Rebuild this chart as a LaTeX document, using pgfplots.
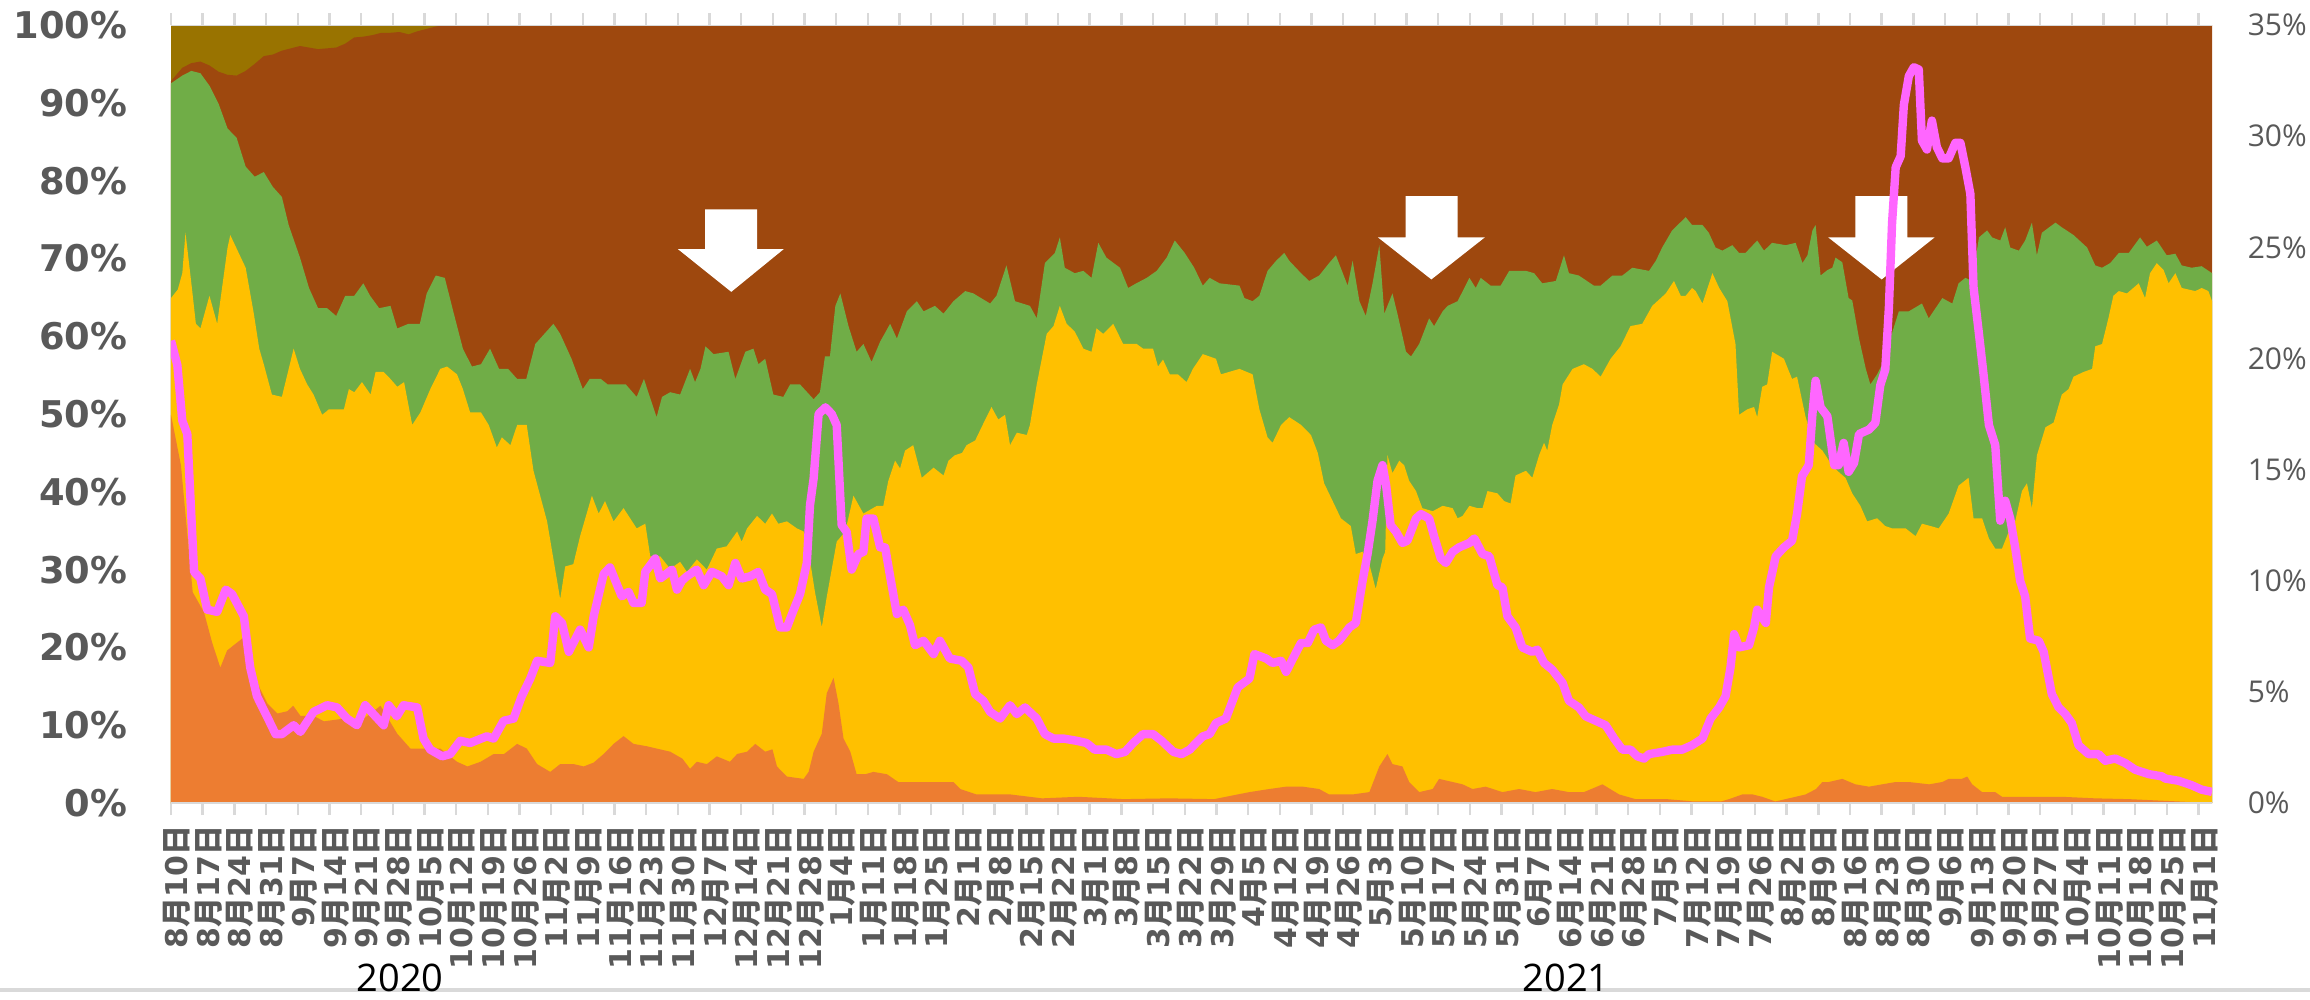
\documentclass[border=0pt]{standalone}
\usepackage{fontspec}
\setmainfont{DejaVu Sans}
\newfontfamily\cjk{Noto Sans CJK JP}
\newfontfamily\opensans{Open Sans}
\usepackage{pgfplots}
\pgfplotsset{compat=1.18}
\usepackage{pgfplotstable}

\definecolor{cOrange}{HTML}{ED7D31}
\definecolor{cYellow}{HTML}{FFC000}
\definecolor{cGreen}{HTML}{70AD47}
\definecolor{cBrown}{HTML}{9E480E}
\definecolor{cOlive}{HTML}{997300}
\definecolor{cPink}{HTML}{FF66FF}
\definecolor{cTick}{HTML}{595959}
\definecolor{cGrid}{HTML}{D9D9D9}

\newcommand\md[2]{#1{\cjk 月}#2{\cjk 日}}

% x = days since 2020-08-10, y = cumulative share (%) at the top of each layer
\pgfplotstableread{
d v
-0.5 92.8
2 94.5
4 95.1
6 95.3
8 94.8
10 94.0
12 93.6
14 93.5
16 94.1
18 95.0
20 96.0
22 96.2
24 96.7
26 97.0
28 97.3
30 97.1
32 96.9
34 97.0
36 97.1
38 97.6
40 98.4
42 98.5
44 98.7
46 99.0
48 99.0
50 99.1
52 98.8
54 99.2
56 99.5
58 99.8
60 100
450.5 100
}\tblBrown

\pgfplotstableread{
d v
-0.5 92.5
2 93.5
4 94.1
6 93.8
8 92.2
10 89.9
12 86.7
14 85.5
16 81.8
18 80.5
20 81.1
22 79.2
24 77.9
25.5 74.3
28 70.1
30 66.2
32 63.6
34 63.6
36 62.6
38 65.2
40 65.2
42 66.8
43.5 65.2
45.5 63.6
48 63.9
49.5 61.0
52 61.6
54.5 61.6
56 65.5
58 67.8
60 67.5
62 62.9
64 58.4
66 56.1
68 56.4
70 58.4
72 55.8
74 55.8
76 54.5
78 54.5
80 59.0
82 60.3
84 61.6
85.5 60.3
88 57.1
90.5 53.2
92 54.5
94.5 54.5
96 53.8
98.7 53.8
100 53.8
102.4 52.2
104 54.5
106.8 49.6
108 52.2
109.8 52.8
112 52.5
114.2 55.8
115.3 54.1
116.5 55.8
117.6 58.7
119.4 57.7
122.7 58.0
124.2 54.5
126.4 58.0
128.2 58.4
129.3 56.4
130.8 57.1
132.6 52.5
134.8 52.2
136.3 53.8
138.5 53.8
141.5 51.9
142.9 52.8
144.0 57.4
145.1 57.4
146.3 63.9
147.4 65.5
149.2 61.3
151.0 58.0
152.5 59.0
154.3 56.7
156.2 59.3
158.4 61.6
159.9 59.7
162.1 63.2
164.3 64.5
165.8 63.2
168.3 63.9
170.2 62.9
172.4 64.5
175.0 65.8
176.8 65.5
180.5 64.2
181.9 65.2
184.1 69.1
186.0 64.5
189.3 63.9
190.8 62.3
192.6 69.4
194.8 70.7
195.9 72.7
197.0 68.8
199.2 68.1
201.1 68.4
202.9 67.5
204.4 72.0
206.2 70.1
209.2 68.8
211.0 66.2
212.8 66.8
215.1 67.5
217.3 68.4
219.5 70.1
221.3 72.3
223.5 70.7
225.6 68.8
227.5 66.5
229.0 67.5
231.2 66.8
235.6 66.5
236.7 64.9
238.5 64.5
240.0 65.2
241.8 68.4
243.7 69.7
245.5 70.7
246.6 69.7
249.2 68.1
251.0 67.1
253.2 67.8
255.4 69.4
256.9 70.4
259.5 66.5
260.6 69.7
262.1 64.5
263.5 62.6
265.0 66.8
266.5 71.7
267.6 62.9
269.4 65.5
270.5 62.9
272.4 58.0
273.5 57.4
275.3 59.0
277.5 62.3
278.6 61.3
280.5 63.2
281.6 63.9
283.8 64.5
286.4 67.5
287.8 66.2
288.9 67.5
291.1 66.5
293.3 66.5
295.2 68.4
298.9 68.4
300.7 68.1
302.5 66.8
305.5 67.1
307.3 70.4
308.4 68.1
310.6 67.8
313.9 66.5
315.4 66.5
318.0 67.8
320.2 67.8
322.4 68.8
326.1 68.4
327.6 69.7
329.0 71.4
331.2 73.6
334.2 75.3
335.6 74.3
337.9 74.3
339.3 73.3
340.8 71.4
342.3 71.0
344.5 71.7
346.0 70.7
347.4 70.7
350.0 72.3
351.5 71.0
353.3 72.0
356.3 71.7
358.5 72.0
360.0 69.4
361.1 70.4
362.2 73.6
362.9 74.3
364.0 67.8
365.5 68.5
366.6 68.8
367.3 70.1
368.8 69.5
370.2 64.9
371.0 64.6
372.5 59.7
374.0 55.8
375.0 53.8
376.5 55.1
377.6 56.4
379.4 59.7
381.3 63.2
383.5 63.2
386.4 64.2
387.9 62.3
390.9 64.9
393.1 64.2
394.5 66.8
396.0 67.5
397.5 67.1
399.0 72.7
400.8 73.6
401.9 72.7
403.7 72.3
404.8 74.0
405.9 71.4
407.8 71.0
409.2 72.3
410.7 74.6
411.8 70.4
412.9 73.3
415.9 74.6
417.3 74.0
419.9 73.0
422.9 71.4
424.7 69.1
426.2 68.8
428.0 69.4
429.9 70.7
432.1 70.7
434.6 72.7
436.1 71.5
438.3 72.3
440.5 70.4
442.4 70.6
443.8 69.1
446.0 68.8
448.2 69.0
450.5 68.1
}\tblGreen

\pgfplotstableread{
d v
-0.5 64.9
1 66
2 68.1
2.7 73.3
4 66.8
5 61.6
6 61.0
8 65.2
9.7 61.6
12 71.4
12.6 73.0
16 68.8
17.8 62.9
19 58.4
20 56.4
21.8 52.5
24 52.2
26.6 58.4
28 55.8
29.6 53.8
31 52.5
32.9 49.9
34.4 50.6
37.7 50.6
38.8 53.2
40 52.8
41.7 54.1
43.6 52.5
44.7 55.4
46.5 55.4
48 54.5
49.5 53.5
51 54.1
52.8 48.6
54.6 50.2
56.8 53.2
59 55.8
60.5 56.1
62.7 55.1
64 53.2
65.6 50.2
68 50.2
69.7 48.6
71.5 45.7
72.6 47.0
74.5 46.0
76 48.6
78.1 48.6
79.6 42.7
82.6 36.2
85.5 26.2
86.6 30.4
88.4 30.7
89.9 34.3
92.5 39.5
94 37.2
95.4 38.8
97.3 36.2
99.5 37.9
102.4 35.3
104.3 35.9
105.4 31.7
107.6 31.7
109.8 30.1
112 31.0
113.5 29.7
115.7 31.3
117.9 30.0
120.1 32.7
122.3 33.0
124.6 34.9
125.6 33.6
126.8 35.3
129 36.9
130.8 35.9
132.3 37.2
133.7 35.9
135.6 36.2
137.8 35.3
139.3 34.9
140.4 32.3
141.8 27.1
143.3 22.6
144.4 26.5
146.6 33.6
148.5 34.9
150.3 39.5
152.5 37.2
155.5 38.2
156.9 38.2
158 41.4
159.5 44.0
160.6 43.0
161.7 45.3
163.5 46.0
165.4 41.8
168 43.1
170.2 42.1
171.3 44.0
172.7 44.7
174.3 45.0
175.3 46.0
177.2 46.6
178.6 48.3
180.8 50.9
182.3 49.3
183.8 49.9
184.9 46.0
186.4 47.6
188.6 47.3
189.3 48.6
190.8 53.8
193 60.3
194.5 61.3
195.9 63.9
197.4 61.6
199.2 60.6
201.1 58.4
202.9 58.0
204 61.0
205.5 60.3
207.7 61.6
209.9 59.0
212.9 59.0
214.3 58.4
216.5 58.4
217.6 56.1
218.7 57
220.2 55.1
222 55.1
223.9 54.1
225.3 55.8
227.5 57.7
230.4 57.1
231.5 55.1
235.6 55.8
238.5 55.1
240 50.6
241.8 47.0
242.9 46.3
244.8 48.6
246.6 49.6
249.2 48.6
251.4 47.3
252.9 45
254.3 41.1
256.2 38.8
258 36.6
260.2 35.6
261.3 32.0
262.8 32.3
264.3 30.7
265.7 27.5
267.2 31.4
267.8 32.3
268.3 44.7
269.4 42.4
270.9 44.0
272 43.4
273.1 41.4
274.6 40.1
276.0 37.9
278.3 37.5
280.5 38.2
282.7 37.9
283.8 36.6
284.9 36.9
286.4 38.2
288.2 37.9
289.3 37.9
290.4 40.1
292.6 39.8
294.1 38.8
295.5 38.5
296.6 42.1
298.9 42.7
300.3 41.8
301.8 44.7
302.9 46.3
303.6 45.3
304.7 48.6
306.2 51.2
307 53.8
309.2 55.8
311.7 56.4
313.6 55.8
315.4 54.8
317.6 57.1
319.8 58.7
322 61.3
324.6 61.6
326.8 63.9
329.8 65.5
331.6 67.1
333.1 65.2
334.2 65.2
335.6 66.2
336.4 65.8
337.9 64.2
340.1 68.1
341.6 66.2
343.4 64.5
345.2 59.0
346 49.9
347.8 50.6
349.3 50.9
350 49.6
351.1 53.5
352.2 53.8
353.3 58.0
355.9 57.1
357.7 54.5
358.8 54.8
360.7 49.6
362.5 46.3
364.4 45.3
366.2 43.7
367.7 42.7
369.5 41.8
371 39.8
372.8 38.2
374.3 36.2
376.5 36.6
378.3 35.6
379.8 35.3
382.8 35.3
385 34.3
386.4 35.9
388.3 35.6
390.1 35.3
392.3 37.2
394.5 40.8
396.7 41.8
397.8 36.6
399.7 36.6
401.2 34.0
402.6 32.7
404.1 32.7
405.6 34.9
407 36.2
408.5 40.1
409.6 41.1
410.7 37.9
411.8 44.7
413.7 48.3
415.5 48.9
417.3 52.5
418.8 53.2
419.9 54.8
422.1 55.4
424 55.8
424.7 58.7
426.2 59.0
427.6 62.3
428.7 65.2
429.9 65.8
431.7 65.5
434.3 66.8
435.7 64.9
436.8 68.1
438.3 69.4
439.8 68.5
440.9 66.8
442.4 68.1
443.8 66.2
446.8 65.8
448.2 66.2
449.7 65.8
450.5 64.5
}\tblYellow

\pgfplotstableread{
d v
-0.5 49.9
1.7 43.4
4.3 27.1
6.8 24.5
8.6 20.6
10.4 17.4
11.9 19.6
13.4 20.3
15.6 21.3
16.7 19.0
18.5 15.5
20.8 12.8
23 11.5
25.2 11.8
26.5 12.5
28.1 11.2
31 11.2
33.3 10.5
38.4 10.9
41.3 10.5
45.8 12.5
49.5 8.9
52.4 7.0
55.3 7.0
59 7.0
62.7 5.3
65 4.7
67.9 5.3
70.8 6.3
73.1 6.3
76 7.6
78.1 7.0
80.4 5.0
83.3 4.0
85.5 5.0
88.5 5.0
90.7 4.7
92.9 5.2
95.1 6.3
97.3 7.6
99.5 8.6
101.7 7.6
104.6 7.3
106.8 7.0
109.8 6.6
112.5 5.7
114.2 4.4
115.7 5.3
117.9 5.0
120.1 6.0
123 5.3
124.6 6.3
126.8 6.6
128.6 7.6
130.8 6.6
132.4 6.9
133.4 4.7
135.6 3.4
139.3 3.1
140.4 4.0
141.5 6.6
143.3 8.9
144.4 14.1
145.9 16.1
147 12.8
148.1 8.3
149.6 6.6
151 3.7
152.9 3.7
154.7 4.0
157.7 3.7
160.2 2.7
165 2.7
172.4 2.7
173.9 1.8
177.5 1.1
185 1.1
192 0.6
200 0.8
210 0.5
220 0.6
230 0.5
237.8 1.4
242.2 1.8
245.9 2.1
249.6 2.1
253.2 1.8
255.4 1.1
260.6 1.1
264.3 1.4
266.5 4.7
268.3 6.3
269.4 5.0
271.6 4.7
273.1 2.7
275.3 1.4
278.3 1.8
279.7 3.1
282.7 2.7
284.9 2.4
287.1 1.8
290 2.1
293.7 1.4
297.4 1.8
301 1.4
304.7 1.8
308.4 1.4
311.7 1.4
315.8 2.4
319.5 1.1
323.1 0.5
330 0.5
336 0.2
342 0.2
343.8 0.5
346.7 1.1
349 1.1
351.1 0.8
354 0.2
358.5 0.8
360.7 1.1
363 1.8
364.4 2.7
365.8 2.7
368.8 3.1
371.7 2.4
374.7 2.1
377.6 2.4
380.6 2.7
383.5 2.7
388 2.4
390.9 2.7
392.3 3.1
395.2 3.1
396.4 3.4
397.5 2.4
399.7 1.4
402.6 1.4
404.1 0.8
410 0.8
417.3 0.8
424.7 0.6
432.1 0.5
439.4 0.3
446.8 0.1
450.5 0.1
}\tblOrange

% right axis share (%)
\pgfplotstableread{
d v
-0.5 20.8
0.9 19.7
2 17.2
3.1 16.6
4.6 10.4
6 10.1
7.5 8.7
9.7 8.6
11.6 9.6
13 9.4
15.6 8.4
17 6.1
18.5 4.8
20.7 3.9
22.6 3.1
24 3.1
26.6 3.5
28.1 3.2
31 4.1
34 4.4
36.2 4.3
38.4 3.8
40.6 3.5
42.4 4.4
46.5 3.5
47.6 4.4
49.4 3.9
50.9 4.4
53.9 4.3
55.3 2.9
56.8 2.4
59.4 2.1
61.2 2.2
63.4 2.8
65.6 2.7
69.3 3.0
70.8 2.9
73 3.7
75.2 3.8
77 4.8
78.9 5.6
80.4 6.4
83.3 6.3
84.4 8.4
85.9 8.1
87.4 6.8
89.9 7.8
91.8 7.0
92.9 8.4
95.1 10.3
96.5 10.6
99.1 9.3
100.6 9.5
101.7 9.0
103.5 9.0
104.3 10.4
106.5 11.0
107.6 10.1
110.2 10.5
111.3 9.6
112.4 10.0
113.5 10.2
115.7 10.5
117.2 9.8
119 10.4
121.2 10.2
122.7 9.8
124.2 10.8
125.6 10.1
127.5 10.2
129.3 10.4
130.8 9.6
132.3 9.4
134.1 7.9
135.6 7.9
137.1 8.7
138.5 9.4
140 10.8
140.7 13.4
141.5 14.6
142.6 17.5
144.1 17.8
145.5 17.5
146.6 17.0
147.7 12.5
148.8 12.2
149.9 10.5
151.4 11.2
152.5 11.3
153.2 12.8
154.7 12.8
156.2 11.5
157.3 11.5
158.4 10.2
159.9 8.5
161.3 8.7
162.8 8.0
163.9 7.1
165.8 7.3
168 6.7
169.4 7.3
171.6 6.5
174.2 6.4
175.7 6.1
177.2 4.9
179 4.6
180.5 4.1
182.7 3.8
184.9 4.4
186.4 4.0
188.2 4.3
190.8 3.8
192.6 3.1
194.5 2.9
196.7 2.9
199.6 2.8
201.8 2.7
203.6 2.4
206.2 2.4
208.4 2.2
210.3 2.3
212.1 2.7
214.3 3.1
216.5 3.1
218.4 2.8
221 2.3
222.8 2.2
224.6 2.4
226 2.7
227.5 3.0
229 3.1
230.4 3.6
232.6 3.8
235.2 5.2
237.8 5.6
238.9 6.7
241.5 6.5
242.9 6.3
244.8 6.4
245.9 5.9
247.4 6.5
249.2 7.2
250.7 7.2
252.1 7.8
253.6 7.9
254.7 7.3
256.2 7.1
257.6 7.3
259.9 7.9
261.3 8.1
262.8 10.0
263.9 11.2
265 12.7
266.1 14.5
267.2 15.2
268 14.3
269 12.5
270.2 12.2
271.6 11.7
272.7 11.8
274.6 12.8
275.7 13.0
277.5 12.8
278.6 12.0
280.1 11.0
281.2 10.8
282.7 11.3
284.1 11.5
286.4 11.7
287.5 11.9
289.3 11.2
290.8 11.1
292.6 9.8
293.7 9.7
294.8 8.4
296.6 7.9
298.1 7.0
300.3 6.8
301.4 6.9
302.9 6.3
304.7 6.0
307 5.4
308.4 4.6
310.6 4.3
312.1 3.9
314.3 3.7
316.5 3.5
318.4 2.9
320.2 2.4
322 2.4
323.5 2.1
325 2.0
326.1 2.2
329 2.3
331.2 2.4
333.4 2.4
335.6 2.6
337.9 2.9
339.7 3.8
341.6 4.3
343 4.8
344.1 6.1
344.9 7.6
346 7.0
348.2 7.1
349.3 7.9
350 8.7
351.9 8.1
352.6 9.7
354.1 11.1
355.9 11.5
357.7 11.8
358.8 13.0
359.9 14.7
361.4 15.2
362.2 17.5
362.9 19.0
364 17.8
365.5 17.4
367 15.2
368 15.2
369.1 16.2
370.2 14.9
371.4 15.3
372.5 16.6
374.7 16.8
376.1 17.1
377.2 18.8
378.3 19.5
379.1 22.3
379.8 26.1
380.6 28.6
381.7 29.1
382.4 31.4
383.5 32.7
384.6 33.1
385.7 33.0
386.4 29.8
387.5 29.4
388.6 30.7
389.7 29.5
390.9 29.0
392.3 29.0
393.8 29.7
394.9 29.7
396 28.6
397.1 27.4
397.8 23.2
399 21.1
400 19.3
401.2 17.0
402.6 16.1
403.7 12.7
404.8 13.6
405.9 12.8
407 11.5
408.1 10.0
409.2 9.3
410.3 7.4
412.2 7.3
413.3 6.8
415.1 4.9
416.6 4.3
418.1 4.0
419.5 3.6
421 2.6
423.2 2.2
425.4 2.2
426.9 1.9
429.1 2.0
431.3 1.8
433.5 1.5
436.5 1.3
439.4 1.2
440.2 1.1
443.1 1.0
446 0.8
448.2 0.6
450.5 0.5
}\tblPink

\begin{document}
\begin{tikzpicture}
\path[use as bounding box] (-42.75pt,-49pt) rectangle (534.75pt,200.75pt);
\begin{axis}[
  at={(0,0)}, anchor=south west,
  scale only axis, width=510.25pt, height=194.5pt,
  xmin=-0.5, xmax=450.5, ymin=0, ymax=100,
  axis line style={draw=none},
  tick align=outside,
  major tick length=0pt,
  ytick={0,10,...,100},
  yticklabels={0\%,10\%,20\%,30\%,40\%,50\%,60\%,70\%,80\%,90\%,100\%},
  yticklabel style={font=\fontsize{9.2}{10}\selectfont\bfseries, text=cTick, inner sep=0pt, xshift=-10.75pt},
  xtick={0.8,7.8,...,449},
  xticklabels={\md{8}{10},\md{8}{17},\md{8}{24},\md{8}{31},\md{9}{7},\md{9}{14},\md{9}{21},\md{9}{28},
    \md{10}{5},\md{10}{12},\md{10}{19},\md{10}{26},\md{11}{2},\md{11}{9},\md{11}{16},\md{11}{23},\md{11}{30},
    \md{12}{7},\md{12}{14},\md{12}{21},\md{12}{28},
    \md{1}{4},\md{1}{11},\md{1}{18},\md{1}{25},\md{2}{1},\md{2}{8},\md{2}{15},\md{2}{22},
    \md{3}{1},\md{3}{8},\md{3}{15},\md{3}{22},\md{3}{29},\md{4}{5},\md{4}{12},\md{4}{19},\md{4}{26},
    \md{5}{3},\md{5}{10},\md{5}{17},\md{5}{24},\md{5}{31},\md{6}{7},\md{6}{14},\md{6}{21},\md{6}{28},
    \md{7}{5},\md{7}{12},\md{7}{19},\md{7}{26},\md{8}{2},\md{8}{9},\md{8}{16},\md{8}{23},\md{8}{30},
    \md{9}{6},\md{9}{13},\md{9}{20},\md{9}{27},\md{10}{4},\md{10}{11},\md{10}{18},\md{10}{25},\md{11}{1}},
  xticklabel style={yshift=-5.5pt, rotate=90, anchor=east, inner sep=0pt, font=\fontsize{7.5}{8}\selectfont\bfseries, text=cTick},
  minor xtick={-0.5,6.5,...,448},
  minor tick length=3pt,
  minor tick style={cGrid, line width=0.6pt},
  clip=true,
]
\addplot[draw=none, fill=cOlive] coordinates {(-0.5,100) (450.5,100)} \closedcycle;
\addplot[draw=none, fill=cBrown] table[x=d, y=v] {\tblBrown} \closedcycle;
\addplot[draw=none, fill=cGreen] table[x=d, y=v] {\tblGreen} \closedcycle;
\addplot[draw=none, fill=cYellow] table[x=d, y=v] {\tblYellow} \closedcycle;
\addplot[draw=none, fill=cOrange] table[x=d, y=v] {\tblOrange} \closedcycle;

% block arrows
\fill[white] (axis cs:117.5,76.3) -- (axis cs:129,76.3) -- (axis cs:129,71.2) -- (axis cs:134.9,71.2)
  -- (axis cs:123.3,65.7) -- (axis cs:111.5,71.2) -- (axis cs:117.5,71.2) -- cycle;
\fill[white] (axis cs:272.3,78) -- (axis cs:283.8,78) -- (axis cs:283.8,72.7) -- (axis cs:289.8,72.7)
  -- (axis cs:278,67.3) -- (axis cs:266.2,72.7) -- (axis cs:272.3,72.7) -- cycle;
\fill[white] (axis cs:371.7,78) -- (axis cs:383.2,78) -- (axis cs:383.2,72.7) -- (axis cs:389.2,72.7)
  -- (axis cs:377.5,67.3) -- (axis cs:365.7,72.7) -- (axis cs:371.7,72.7) -- cycle;

\draw[cGrid, line width=0.5pt] (rel axis cs:0,1) -- (rel axis cs:1,1);
\draw[cGrid, line width=0.7pt] (rel axis cs:0,0) -- (rel axis cs:1,0);
\end{axis}

\begin{axis}[
  at={(0,0)}, anchor=south west,
  scale only axis, width=510.25pt, height=194.5pt,
  xmin=-0.5, xmax=450.5, ymin=0, ymax=35,
  axis x line=none, axis y line*=right,
  y axis line style={draw=none},
  major tick length=0pt,
  ytick={0,5,...,35},
  yticklabels={0\%,5\%,10\%,15\%,20\%,25\%,30\%,35\%},
  yticklabel style={font=\opensans\fontsize{7.5}{8}\selectfont, text=cTick, inner sep=0pt, xshift=8.75pt},
]
\addplot[cPink, line width=2.1pt, line join=round] table[x=d, y=v] {\tblPink};
\end{axis}

\draw[cGrid, line width=1pt] (-42.75pt,-46.75pt) -- (534.75pt,-46.75pt);
\node[font=\opensans\fontsize{9.5}{10}\selectfont, inner sep=0pt] at (57.25pt,-43.6pt) {2020};
\node[font=\opensans\fontsize{9.5}{10}\selectfont, inner sep=0pt] at (348.75pt,-43.6pt) {2021};
\end{tikzpicture}
\end{document}
